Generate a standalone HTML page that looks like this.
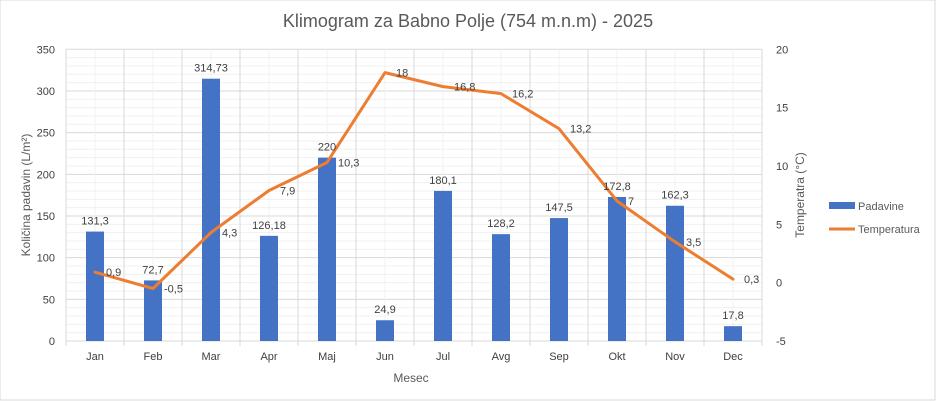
<!DOCTYPE html>
<html><head><meta charset="utf-8"><style>
body{margin:0;background:#fff}
svg{display:block;font-family:"Liberation Sans",sans-serif}
</style></head><body>
<svg width="936" height="401" viewBox="0 0 936 401">
<rect x="0" y="0" width="935" height="400" fill="#fff" stroke="#d9d9d9"/>
<text x="468" y="27" text-anchor="middle" font-size="18" fill="#595959">Klimogram za Babno Polje (754 m.n.m) - 2025</text>
<g id="grid"></g>
<g id="bars"></g>
<g id="line"></g>
<g id="labels" font-size="11" fill="#404040"></g>
<text transform="translate(30,195) rotate(-90)" text-anchor="middle" font-size="12" fill="#595959">Količina padavin (L/m²)</text>
<text transform="translate(804,195) rotate(-90)" text-anchor="middle" font-size="12" fill="#595959">Temperatra (°C)</text>
<text x="411" y="382" text-anchor="middle" font-size="12" fill="#595959">Mesec</text>
<rect x="829" y="202" width="26" height="7" fill="#4472c4"/>
<text x="858" y="210" font-size="11" fill="#595959">Padavine</text>
<line x1="829" y1="229" x2="855" y2="229" stroke="#ed7d31" stroke-width="3"/>
<text x="858" y="233" font-size="11" fill="#595959">Temperatura</text>
</svg>
<script>
const ns="http://www.w3.org/2000/svg";
function el(p,t,a,txt){const e=document.createElementNS(ns,t);for(const k in a)e.setAttribute(k,a[k]);if(txt!==undefined)e.textContent=txt;document.getElementById(p).appendChild(e);return e;}
const X0=66,X1=762,Y0=341,YT=49.3,cw=(X1-X0)/12;
const yL=v=>Y0-(v/350)*(Y0-YT);
const yR=v=>Y0-((v+5)/25)*(Y0-YT);
for(let v=0;v<=350;v+=10){const maj=v%50==0;el("grid","line",{x1:X0,x2:X1,y1:yL(v),y2:yL(v),stroke:maj?"#d9d9d9":"#f0f0f0","stroke-width":1});}
for(let i=0;i<=12;i++){el("grid","line",{x1:X0+i*cw,x2:X0+i*cw,y1:YT,y2:Y0+5,stroke:"#d9d9d9"});}
for(let i=0;i<12;i++){el("grid","line",{x1:X0+(i+.5)*cw,x2:X0+(i+.5)*cw,y1:YT,y2:Y0,stroke:"#f0f0f0"});}
for(let v=0;v<=350;v+=50){el("labels","text",{x:55,y:yL(v)+4,"text-anchor":"end"},v);}
for(let v=-5;v<=20;v+=5){el("labels","text",{x:776,y:yR(v)+4,"text-anchor":"start"},v);}
const m=["Jan","Feb","Mar","Apr","Maj","Jun","Jul","Avg","Sep","Okt","Nov","Dec"];
const p=[131.3,72.7,314.73,126.18,220,24.9,180.1,128.2,147.5,172.8,162.3,17.8];
const ps=["131,3","72,7","314,73","126,18","220","24,9","180,1","128,2","147,5","172,8","162,3","17,8"];
const t=[0.9,-0.5,4.3,7.9,10.3,18,16.8,16.2,13.2,7,3.5,0.3];
const ts=["0,9","-0,5","4,3","7,9","10,3","18","16,8","16,2","13,2","7","3,5","0,3"];
let pts=[];
for(let i=0;i<12;i++){
 const cx=X0+(i+.5)*cw;
 el("bars","rect",{x:cx-9,y:yL(p[i]),width:18,height:Y0-yL(p[i]),fill:"#4472c4"});
 el("labels","text",{x:cx,y:yL(p[i])-7,"text-anchor":"middle"},ps[i]);
 el("labels","text",{x:cx,y:360,"text-anchor":"middle"},m[i]);
 pts.push(cx+","+yR(t[i]));
 el("labels","text",{x:cx+11,y:yR(t[i])+4},ts[i]);
}
el("line","polyline",{points:pts.join(" "),fill:"none",stroke:"#ed7d31","stroke-width":3,"stroke-linejoin":"round","stroke-linecap":"round"});
</script>
</body></html>
